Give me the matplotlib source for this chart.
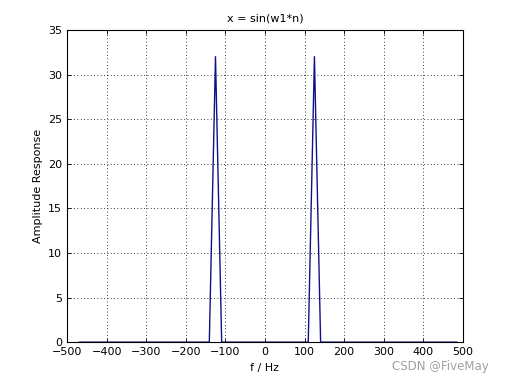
import numpy as np
import matplotlib
matplotlib.use("Agg")
import matplotlib.pyplot as plt

# Frequency bins (Hz) and amplitude values
freqs = [-468.75 + 15.625 * k for k in range(62)]
amps = [0.0] * 62
amps[22] = 32.0   # peak at -125 Hz
amps[38] = 32.0   # peak at +125 Hz

title = "x = sin(w1*n)"
xlabel = "f / Hz"
ylabel = "Amplitude Response"
xticks = list(range(-500, 501, 100))
yticks = list(range(0, 36, 5))

fig = plt.figure(figsize=(5.12, 3.84), dpi=100)
ax = fig.add_axes([0.131, 0.109, 0.773, 0.813])
ax.plot(freqs, amps, color="#10108a", linewidth=1.0)
ax.set_xlim(-500, 500)
ax.set_ylim(0, 35)
ax.set_xticks(xticks)
ax.set_yticks(yticks)
ax.tick_params(direction="in", top=True, right=True, labelsize=8, length=3, width=0.6)
ax.grid(True, linestyle=(0, (1, 3)), color="black", linewidth=0.6)
for s in ax.spines.values():
    s.set_linewidth(0.8)
ax.set_title(title, fontsize=8)
ax.set_xlabel(xlabel, fontsize=8)
ax.set_ylabel(ylabel, fontsize=8)
fig.text(0.955, 0.045, "CSDN @FiveMay", color="#a0a0a0", fontsize=8.5, ha="right", va="center")
fig.savefig("out.png", dpi=100)
